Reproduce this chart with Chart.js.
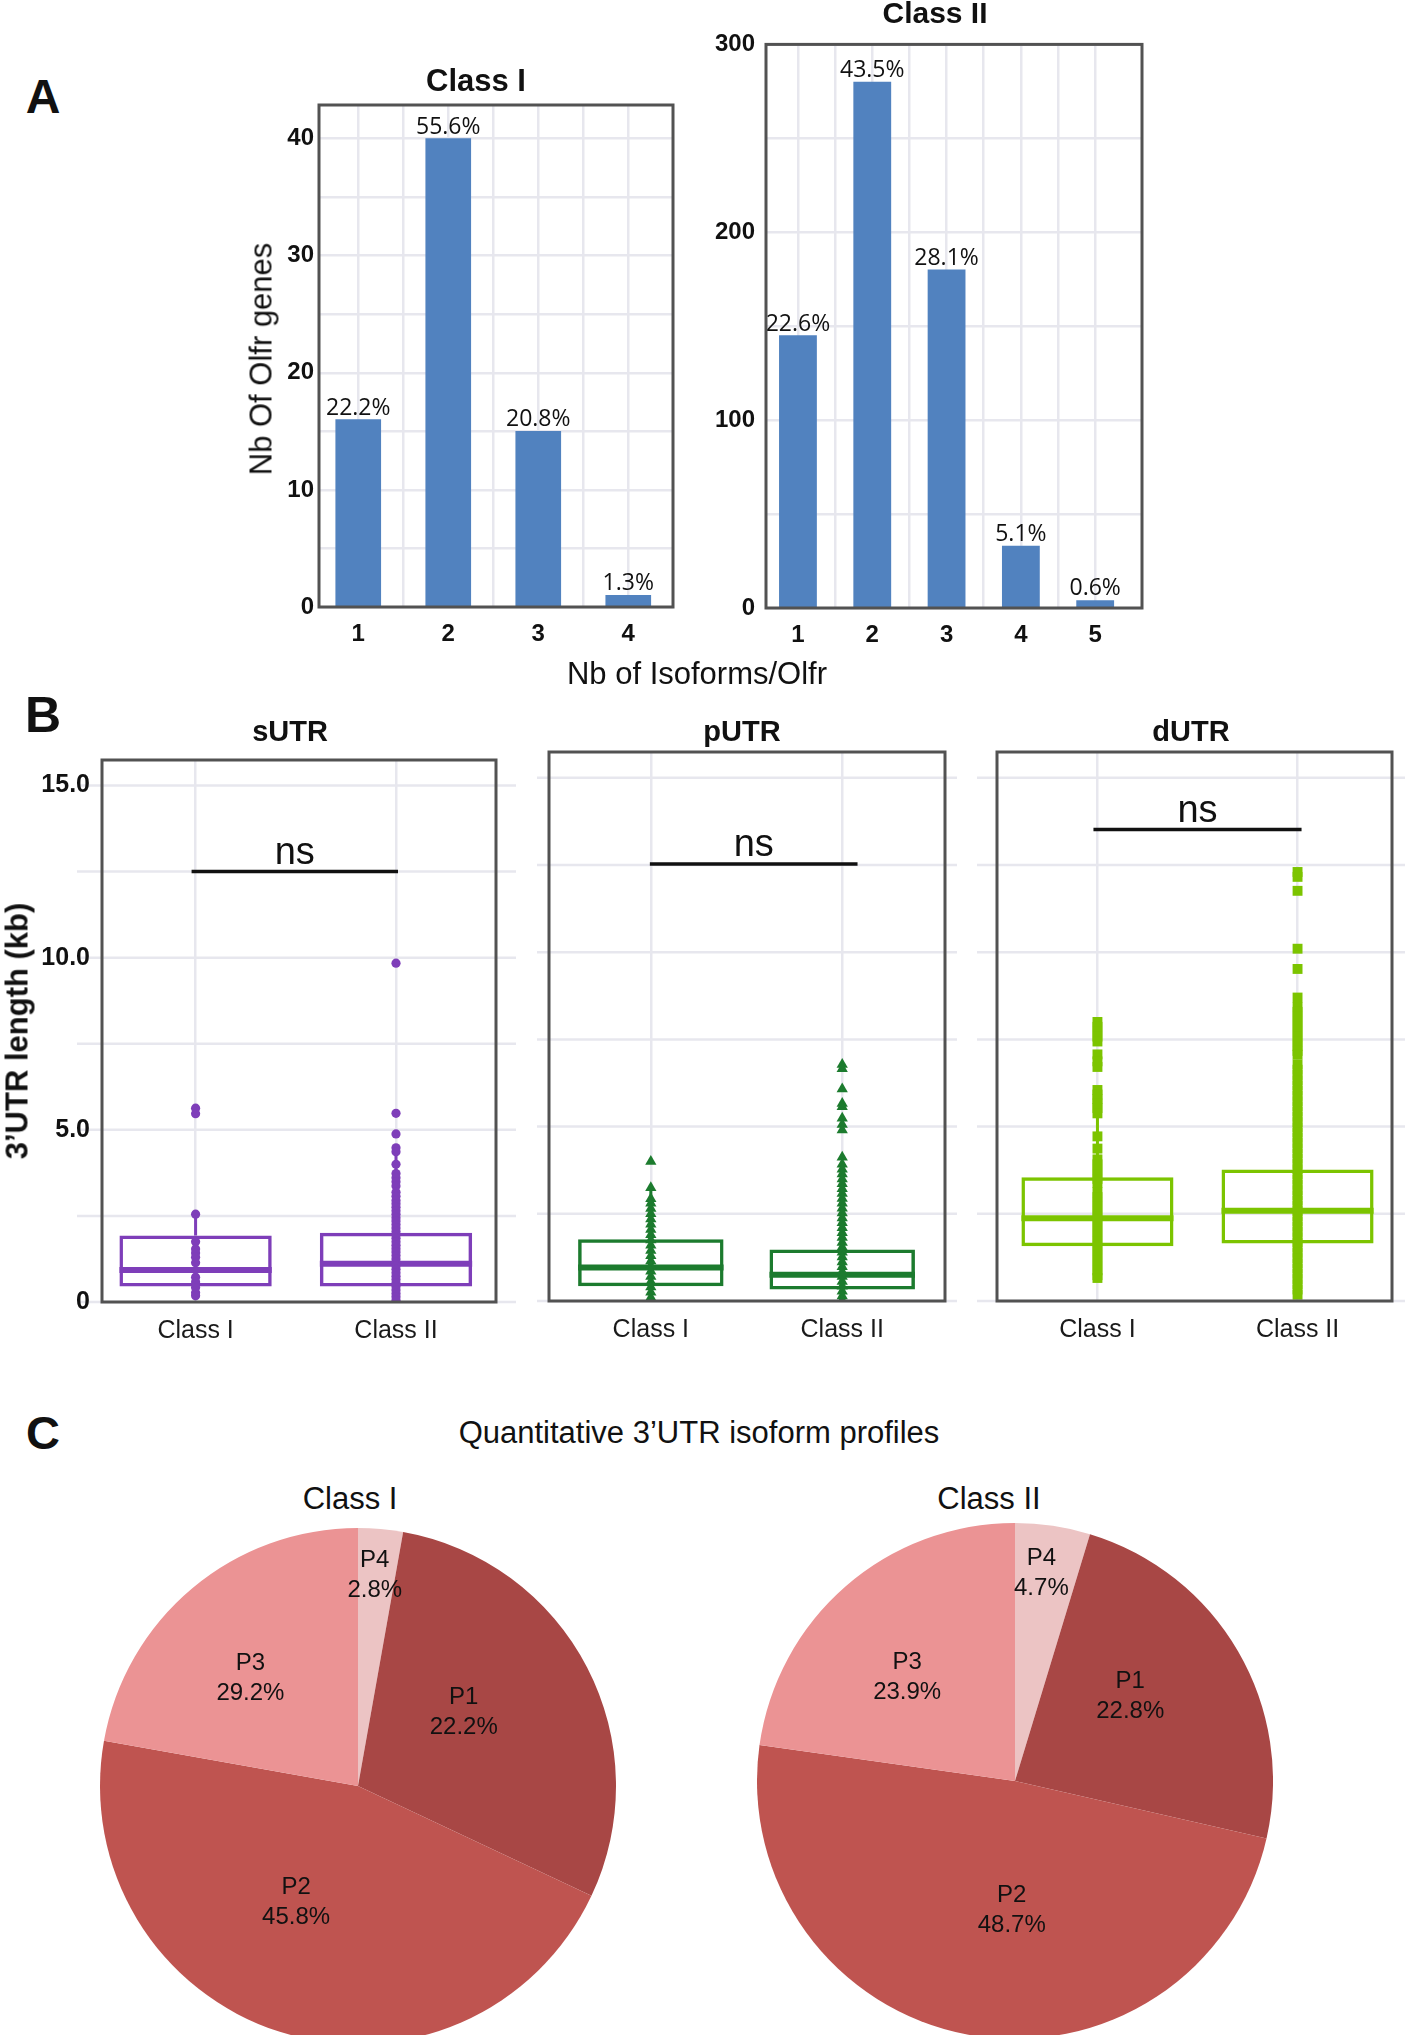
<!DOCTYPE html>
<html><head><meta charset="utf-8">
<script src="https://cdn.jsdelivr.net/npm/chart.js@4/dist/chart.umd.min.js"></script>
<style>
html,body{margin:0;padding:0;background:#fff;}
#page{position:relative;width:1418px;height:2035px;overflow:hidden;font-family:"Liberation Sans",Arial,Helvetica,sans-serif;color:#111;}
.t{position:absolute;white-space:nowrap;line-height:1;transform:translate(-50%,-50%);z-index:3;}
.rot{transform:translate(-50%,-50%) rotate(-90deg);}
canvas{position:absolute;z-index:1;}
</style></head><body><div id="page">
<div class="t" style="left:43px;top:97px;font-size:48px;font-weight:bold;">A</div>
<div class="t" style="left:476px;top:80px;font-size:31px;font-weight:bold;">Class I</div>
<div class="t" style="left:935px;top:13px;font-size:30px;font-weight:bold;">Class II</div>
<div class="t rot" style="left:261px;top:359px;font-size:31px;">Nb Of Olfr genes</div>
<div class="t" style="left:697px;top:673px;font-size:31px;">Nb of Isoforms/Olfr</div>
<div class="t" style="left:43px;top:715px;font-size:50px;font-weight:bold;">B</div>
<div class="t" style="left:290px;top:731px;font-size:29px;font-weight:bold;">sUTR</div>
<div class="t" style="left:742px;top:731px;font-size:29px;font-weight:bold;">pUTR</div>
<div class="t" style="left:1191px;top:731px;font-size:29px;font-weight:bold;">dUTR</div>
<div class="t rot" style="left:17px;top:1031px;font-size:31px;font-weight:bold;">3’UTR length (kb)</div>
<div class="t" style="left:43px;top:1432px;font-size:47px;font-weight:bold;">C</div>
<div class="t" style="left:699px;top:1432px;font-size:31px;">Quantitative 3’UTR isoform profiles</div>
<div class="t" style="left:350px;top:1498px;font-size:31px;">Class I</div>
<div class="t" style="left:989px;top:1498px;font-size:31px;">Class II</div>
</div>
<script>
// ================= DATA =================
// Panel A : number of isoforms per Olfr gene
const isoCatsI = ['1', '2', '3', '4'];
const isoCountsI = [16, 40, 15, 1];
const isoPctI = ['22.2%', '55.6%', '20.8%', '1.3%'];
const isoYTicksI = [0, 10, 20, 30, 40];

const isoCatsII = ['1', '2', '3', '4', '5'];
const isoCountsII = [145, 280, 180, 33, 4];
const isoPctII = ['22.6%', '43.5%', '28.1%', '5.1%', '0.6%'];
const isoYTicksII = [0, 100, 200, 300];

// Panel B : 3'UTR lengths (kb)
const utrGroups = ['Class I', 'Class II'];
const utrYGrid = [0, 2.5, 5, 7.5, 10, 12.5, 15];
const utrYTicks = [0, 5, 10, 15];
const utrYTickText = ['0', '5.0', '10.0', '15.0'];

const sUTR_q1 = [0.45, 0.45];
const sUTR_med = [0.93, 1.11];
const sUTR_q3 = [1.93, 2.01];
const sUTR_lo = [0.18, 0.05];
const sUTR_hi = [2.55, 4.36];
const sUTR_ptsI = [5.63, 5.47, 2.55, 1.75, 1.54, 1.42, 1.30, 1.14, 0.72, 0.58, 0.42, 0.27, 0.18];
const sUTR_ptsII = [9.84, 5.48, 4.88, 4.48, 4.36, 4.0, 3.73, 3.61, 3.49, 3.37, 3.19, 3.07, 2.95, 2.85, 2.75, 2.65,
  2.55, 2.45, 2.35, 2.25, 2.15, 2.05, 1.95, 1.85, 1.75, 1.65, 1.55, 1.45, 1.35, 1.25, 1.15, 1.05, 0.95, 0.85,
  0.75, 0.65, 0.55, 0.45, 0.35, 0.25, 0.15, 0.05];
const sUTR_bracketX = [0.98, 2.01];
const sUTR_bracketY = 12.5;

const pUTR_q1 = [0.42, 0.33];
const pUTR_med = [0.96, 0.75];
const pUTR_q3 = [1.77, 1.48];
const pUTR_lo = [0.02, 0.02];
const pUTR_hi = [3.25, 3.08];
const pUTR_ptsI = [4.0, 3.25, 2.93, 2.8, 2.65, 2.5, 2.35, 2.2, 2.05, 1.9, 1.75, 1.6, 1.45, 1.3, 1.15, 1.0,
  0.85, 0.7, 0.55, 0.4, 0.25, 0.1, 0.02];
const pUTR_ptsII = [6.78, 6.66, 6.08, 5.66, 5.57, 5.24, 5.06, 4.9, 4.12, 3.92, 3.78, 3.64, 3.5, 3.36, 3.22,
  3.08, 2.94, 2.8, 2.66, 2.52, 2.38, 2.24, 2.1, 1.96, 1.82, 1.68, 1.54, 1.4, 1.26, 1.12, 0.98, 0.84, 0.7,
  0.56, 0.42, 0.28, 0.14, 0.02];
const pUTR_bracketX = [0.995, 2.08];
const pUTR_bracketY = 12.53;

const dUTR_q1 = [1.57, 1.65];
const dUTR_med = [2.37, 2.59];
const dUTR_q3 = [3.55, 3.77];
const dUTR_lo = [0.66, 0.18];
const dUTR_hi = [6.05, 6.78];
const dUTR_ptsI = [8.0, 7.86, 7.72, 7.58, 7.44, 7.07, 6.87, 6.71, 6.05, 5.92, 5.79, 5.66, 5.53, 5.38, 4.72,
  4.37, 4.06, 3.92, 3.78, 3.64, 3.5, 3.38, 3.12, 2.98, 2.84, 2.7, 2.56, 2.42, 2.28, 2.14, 2.0, 1.86, 1.72,
  1.58, 1.44, 1.3, 1.16, 1.02, 0.88, 0.74, 0.66];
const dUTR_ptsII = [12.3, 12.16, 11.76, 10.1, 9.52, 8.7, 8.43, 8.29, 8.15, 8.01, 7.87, 7.73, 7.59, 7.45,
  7.31, 7.17, 7.06, 6.78, 6.63, 6.48, 6.33, 6.18, 6.03, 5.88, 5.73, 5.58, 5.43, 5.28, 5.13, 4.98, 4.83, 4.68,
  4.53, 4.38, 4.23, 4.08, 3.93, 3.78, 3.63, 3.48, 3.33, 3.18, 3.03, 2.88, 2.73, 2.58, 2.43, 2.28, 2.13, 1.98,
  1.83, 1.68, 1.53, 1.38, 1.23, 1.08, 0.93, 0.78, 0.63, 0.48, 0.33, 0.18];
const dUTR_bracketX = [0.98, 2.02];
const dUTR_bracketY = 13.52;

// Panel C : quantitative isoform profiles, clockwise from 12 o'clock
const pieCats = ['P4', 'P1', 'P2', 'P3'];
// slice sizes as drawn in the picture (%)
const pieSliceI = [2.8, 29.2, 45.8, 22.2];
const pieSliceII = [4.7, 23.9, 48.7, 22.8];
// percentages printed on the slices
const pieTextI = ['2.8%', '22.2%', '45.8%', '29.2%'];
const pieTextII = ['4.7%', '22.8%', '48.7%', '23.9%'];

// ================= STYLE =================
const GRID = '#e7e7ee';
const FONT = '"Liberation Sans", Arial, Helvetica, sans-serif';
const BLUE = '#5182bf';
const PURPLE = '#7e3eb9';
const GREEN = '#1c7b2e';
const LIME = '#7cc400';
const PIE_COLORS = ['#ecc4c4', '#a84745', '#bf5450', '#eb9394'];
Chart.defaults.font.family = FONT;
Chart.defaults.color = '#111';

function mkCanvas(area, m) {
  const c = document.createElement('canvas');
  const w = area.r - area.l + m.l + m.r, h = area.b - area.t + m.t + m.b;
  c.width = w; c.height = h;
  c.style.left = (area.l - m.l) + 'px'; c.style.top = (area.t - m.t) + 'px';
  c.style.width = w + 'px'; c.style.height = h + 'px';
  document.getElementById('page').appendChild(c);
  return c;
}

const framePlugin = {
  id: 'frame',
  afterDatasetsDraw(chart) {
    const a = chart.chartArea, ctx = chart.ctx;
    ctx.save(); ctx.strokeStyle = '#525252'; ctx.lineWidth = 3;
    ctx.strokeRect(a.left, a.top, a.right - a.left, a.bottom - a.top);
    ctx.restore();
  }
};

const barLabelPlugin = {
  id: 'barLabels',
  afterDatasetsDraw(chart, args, o) {
    const meta = chart.getDatasetMeta(0), ctx = chart.ctx;
    ctx.save();
    ctx.font = '23px "Open Sans", "Liberation Sans", sans-serif';
    ctx.fillStyle = '#111'; ctx.textAlign = 'center'; ctx.textBaseline = 'alphabetic';
    meta.data.forEach((el, i) => ctx.fillText(o.labels[i], el.x, el.y - 5));
    ctx.restore();
  }
};

const extGridPlugin = {
  id: 'extGrid',
  beforeDraw(chart, args, o) {
    const a = chart.chartArea, y = chart.scales.y, ctx = chart.ctx;
    ctx.save(); ctx.strokeStyle = GRID; ctx.lineWidth = 2.5;
    o.values.forEach(v => {
      const py = y.getPixelForValue(v);
      ctx.beginPath(); ctx.moveTo(a.left - o.left, py); ctx.lineTo(a.right + o.right, py); ctx.stroke();
    });
    ctx.restore();
  }
};

const nsPlugin = {
  id: 'nsLabel',
  afterDatasetsDraw(chart, args, o) {
    const x = chart.scales.x, y = chart.scales.y, ctx = chart.ctx;
    ctx.save(); ctx.font = '38px ' + FONT; ctx.fillStyle = '#111';
    ctx.textAlign = 'center'; ctx.textBaseline = 'alphabetic';
    ctx.fillText('ns', x.getPixelForValue((o.x[0] + o.x[1]) / 2), y.getPixelForValue(o.y) - 7.5);
    ctx.restore();
  }
};

const pieLabelPlugin = {
  id: 'pieLabels',
  afterDatasetsDraw(chart, args, o) {
    const meta = chart.getDatasetMeta(0), ctx = chart.ctx;
    ctx.save(); ctx.font = '24px ' + FONT; ctx.fillStyle = '#111';
    ctx.textAlign = 'center'; ctx.textBaseline = 'middle';
    meta.data.forEach((el, i) => {
      const L = o.layout[i];
      const ang = (el.startAngle + el.endAngle) / 2 + L[1] * Math.PI / 180;
      const rr = L[0] * el.outerRadius;
      const px = el.x + Math.cos(ang) * rr, py = el.y + Math.sin(ang) * rr;
      ctx.fillText(chart.data.labels[i], px, py - 15);
      ctx.fillText(o.texts[i], px, py + 15);
    });
    ctx.restore();
  }
};

// ============ Panel A bar charts ============
function isoChart(area, m, cats, counts, pcts, yTicks, yStep, xMin, xMax, yMax, yPad) {
  const c = mkCanvas(area, m);
  return new Chart(c, {
    type: 'bar',
    data: { datasets: [{
      data: counts.map((v, i) => ({ x: i + 1, y: v })),
      backgroundColor: BLUE, borderWidth: 0, barPercentage: 1, categoryPercentage: 1
    }] },
    options: {
      responsive: false, animation: false, devicePixelRatio: 1, events: [],
      layout: { padding: { left: 0, top: m.t, right: m.r, bottom: 0 } },
      plugins: { legend: { display: false }, tooltip: { enabled: false }, barLabels: { labels: pcts } },
      scales: {
        x: {
          type: 'linear', min: xMin, max: xMax, offset: false,
          afterBuildTicks: s => { const t = []; for (let v = 1; v <= cats.length; v += 0.5) t.push({ value: v }); s.ticks = t; },
          afterFit: s => { s.height = m.b; },
          grid: { color: GRID, lineWidth: 2.5, drawTicks: false, offset: false }, border: { display: false },
          ticks: { padding: 13, autoSkip: false, maxRotation: 0, color: '#111', font: { size: 24, weight: 'bold' },
            callback: v => Number.isInteger(v) ? cats[v - 1] : '' }
        },
        y: {
          type: 'linear', min: 0, max: yMax,
          afterBuildTicks: s => { const t = []; for (let v = 0; v <= yTicks[yTicks.length - 1]; v += yStep) t.push({ value: v }); s.ticks = t; },
          afterFit: s => { s.width = m.l; },
          grid: { color: GRID, lineWidth: 2.5, drawTicks: false }, border: { display: false },
          ticks: { padding: yPad, autoSkip: false, color: '#111', font: { size: 24, weight: 'bold' },
            callback: v => yTicks.includes(v) ? String(v) : '' }
        }
      }
    },
    plugins: [barLabelPlugin, framePlugin]
  });
}

isoChart({ l: 319, t: 105, r: 673, b: 607 }, { l: 60, t: 20, r: 15, b: 50 },
  isoCatsI, isoCountsI, isoPctI, isoYTicksI, 5, 0.564, 4.497, 42.87, 5);
isoChart({ l: 766, t: 39, r: 1142, b: 608 }, { l: 60, t: 20, r: 15, b: 50 },
  isoCatsII, isoCountsII, isoPctII, isoYTicksII, 50, 0.57, 5.63, 300, 11);

// ============ Panel B box plots ============
const BOX_FRAC = 0.76;
function utrChart(area, m, ext, color, shape, radius, q1, med, q3, lo, hi, ptsI, ptsII, bx, by, xMin, xMax, showY) {
  const c = mkCanvas(area, m);
  const whisk = [];
  [0, 1].forEach(i => {
    whisk.push({ x: i + 1, y: lo[i] }, { x: i + 1, y: q1[i] }, { x: i + 1, y: null },
      { x: i + 1, y: q3[i] }, { x: i + 1, y: hi[i] }, { x: i + 1, y: null });
  });
  const halfBox = chart => {
    const s = chart.scales.x;
    return Math.abs(s.getPixelForValue(1 + BOX_FRAC / 2) - s.getPixelForValue(1));
  };
  return new Chart(c, {
    type: 'bar',
    data: { datasets: [
      { type: 'scatter', order: 0,
        data: ptsI.map(v => ({ x: 1, y: v })).concat(ptsII.map(v => ({ x: 2, y: v }))),
        pointStyle: shape, pointRadius: radius, pointBackgroundColor: color, pointBorderWidth: 0, pointBorderColor: color },
      { type: 'line', order: 0,
        data: [{ x: bx[0], y: by }, { x: bx[1], y: by }],
        borderColor: '#111', borderWidth: 3.5, pointRadius: 0, fill: false },
      { type: 'scatter', order: 1,
        data: med.map((v, i) => ({ x: i + 1, y: v })),
        pointStyle: 'line', pointRadius: ctx => halfBox(ctx.chart), pointBorderWidth: 6, pointBorderColor: color, pointBackgroundColor: color },
      { type: 'line', order: 2, data: whisk, borderColor: color, borderWidth: 3, pointRadius: 0, spanGaps: false, fill: false },
      { type: 'bar', order: 3,
        data: q1.map((v, i) => ({ x: i + 1, y: [v, q3[i]] })),
        backgroundColor: 'rgba(0,0,0,0)', borderColor: color, borderWidth: 3.5, borderSkipped: false,
        barPercentage: BOX_FRAC, categoryPercentage: 1 }
    ] },
    options: {
      responsive: false, animation: false, devicePixelRatio: 1, events: [],
      layout: { padding: { left: 0, top: m.t, right: m.r, bottom: 0 } },
      plugins: { legend: { display: false }, tooltip: { enabled: false },
        extGrid: { values: utrYGrid, left: ext[0], right: ext[1] },
        nsLabel: { x: bx, y: by } },
      scales: {
        x: {
          type: 'linear', min: xMin, max: xMax, offset: false,
          afterBuildTicks: s => { s.ticks = utrGroups.map((g, i) => ({ value: i + 1 })); },
          afterFit: s => { s.height = m.b; },
          grid: { color: GRID, lineWidth: 2.5, drawTicks: false, offset: false }, border: { display: false },
          ticks: { padding: 14, autoSkip: false, maxRotation: 0, color: '#1a1a1a', font: { size: 25 },
            callback: v => utrGroups[v - 1] || '' }
        },
        y: {
          type: 'linear', min: 0, max: 15.74,
          afterBuildTicks: s => { s.ticks = utrYGrid.map(v => ({ value: v })); },
          afterFit: s => { s.width = m.l; },
          grid: { display: false, drawTicks: false }, border: { display: false },
          ticks: { display: showY, padding: 12, autoSkip: false, color: '#111', font: { size: 25, weight: 'bold' },
            callback: v => { const k = utrYTicks.indexOf(v); return k >= 0 ? utrYTickText[k] : ''; } }
        }
      }
    },
    plugins: [extGridPlugin, nsPlugin, framePlugin]
  });
}

utrChart({ l: 102, t: 753, r: 496, b: 1302 }, { l: 100, t: 20, r: 25, b: 45 }, [25, 20], PURPLE, 'circle', 4.6,
  sUTR_q1, sUTR_med, sUTR_q3, sUTR_lo, sUTR_hi, sUTR_ptsI, sUTR_ptsII, sUTR_bracketX, sUTR_bracketY, 0.533, 2.499, true);
utrChart({ l: 549, t: 752, r: 945, b: 1301 }, { l: 20, t: 20, r: 15, b: 45 }, [12, 12], GREEN, 'triangle', 6.5,
  pUTR_q1, pUTR_med, pUTR_q3, pUTR_lo, pUTR_hi, pUTR_ptsI, pUTR_ptsII, pUTR_bracketX, pUTR_bracketY, 0.468, 2.537, false);
utrChart({ l: 997, t: 752, r: 1392, b: 1301 }, { l: 25, t: 20, r: 20, b: 45 }, [20, 13], LIME, 'rect', 7,
  dUTR_q1, dUTR_med, dUTR_q3, dUTR_lo, dUTR_hi, dUTR_ptsI, dUTR_ptsII, dUTR_bracketX, dUTR_bracketY, 0.498, 2.472, false);

// ============ Panel C pies ============
function pieChart(cx, cy, r, values, texts, layout) {
  const c = mkCanvas({ l: cx - r, t: cy - r, r: cx + r, b: cy + r }, { l: 0, t: 0, r: 0, b: 0 });
  return new Chart(c, {
    type: 'pie',
    data: { labels: pieCats, datasets: [{ data: values, backgroundColor: PIE_COLORS, borderWidth: 0 }] },
    options: {
      responsive: false, animation: false, devicePixelRatio: 1, events: [],
      layout: { padding: 0 },
      plugins: { legend: { display: false }, tooltip: { enabled: false }, pieLabels: { layout, texts } }
    },
    plugins: [pieLabelPlugin]
  });
}
// label placement: [radius fraction, angular shift in degrees]
pieChart(358, 1786, 258, pieSliceI, pieTextI, [[0.82, -0.5], [0.50, -7.6], [0.51, 10.4], [0.59, -5]]);
pieChart(1015, 1781, 258, pieSliceII, pieTextII, [[0.81, -1.2], [0.555, -6.3], [0.50, -9], [0.58, -5.1]]);
</script></body></html>
